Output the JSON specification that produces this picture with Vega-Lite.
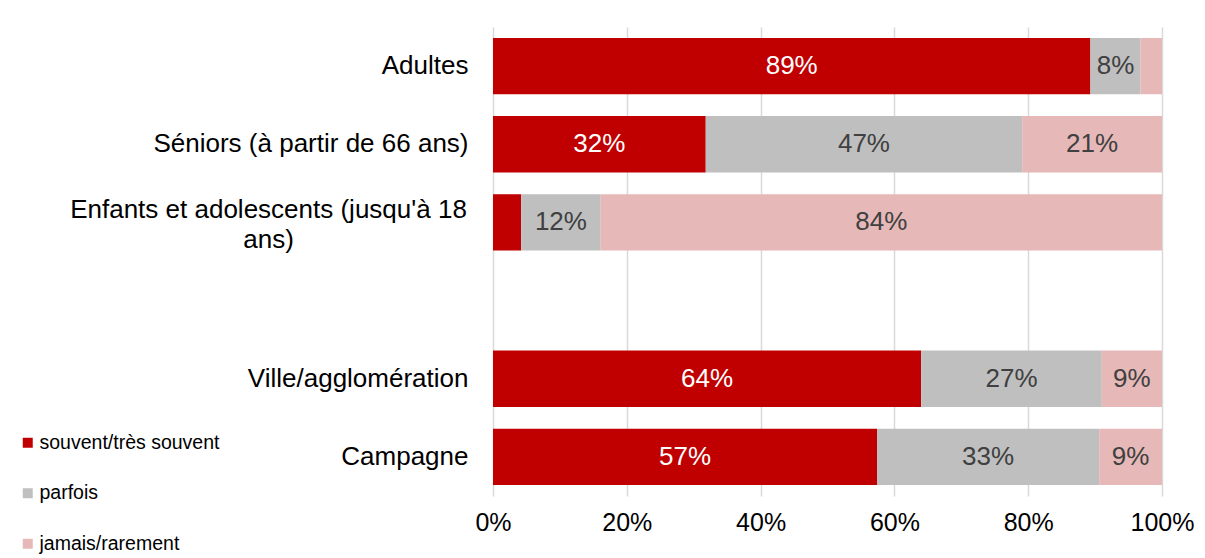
{
  "$schema": "https://vega.github.io/schema/vega-lite/v6.json",
  "autosize": "none",
  "width": 669,
  "height": 469,
  "padding": {"left": 493, "top": 27, "right": 43, "bottom": 62},
  "background": "white",
  "config": {
    "font": "Liberation Sans",
    "view": {"stroke": null}
  },
  "data": {
    "values": [
      {"group": "Adultes", "cat": "souvent/très souvent", "value": 89.3},
      {"group": "Adultes", "cat": "parfois", "value": 7.5},
      {"group": "Adultes", "cat": "jamais/rarement", "value": 3.2},
      {"group": "Séniors (à partir de 66 ans)", "cat": "souvent/très souvent", "value": 31.8},
      {"group": "Séniors (à partir de 66 ans)", "cat": "parfois", "value": 47.3},
      {"group": "Séniors (à partir de 66 ans)", "cat": "jamais/rarement", "value": 20.9},
      {"group": "Enfants et adolescents (jusqu'à 18 ans)", "cat": "souvent/très souvent", "value": 4.2},
      {"group": "Enfants et adolescents (jusqu'à 18 ans)", "cat": "parfois", "value": 11.9},
      {"group": "Enfants et adolescents (jusqu'à 18 ans)", "cat": "jamais/rarement", "value": 83.9},
      {"group": "Ville/agglomération", "cat": "souvent/très souvent", "value": 64.0},
      {"group": "Ville/agglomération", "cat": "parfois", "value": 27.0},
      {"group": "Ville/agglomération", "cat": "jamais/rarement", "value": 9.0},
      {"group": "Campagne", "cat": "souvent/très souvent", "value": 57.4},
      {"group": "Campagne", "cat": "parfois", "value": 33.2},
      {"group": "Campagne", "cat": "jamais/rarement", "value": 9.4}
    ]
  },
  "transform": [
    {"stack": "value", "groupby": ["group"], "sort": [{"field": "cat", "order": "descending"}], "as": ["x0", "x1"]},
    {"calculate": "(datum.x0 + datum.x1) / 2", "as": "mid"},
    {"calculate": "format(datum.value, '.0f') + '%'", "as": "label"}
  ],
  "encoding": {
    "y": {
      "field": "group",
      "type": "nominal",
      "title": null,
      "scale": {
        "domain": ["Adultes", "Séniors (à partir de 66 ans)", "Enfants et adolescents (jusqu'à 18 ans)", "gap", "Ville/agglomération", "Campagne"],
        "paddingInner": 0.28,
        "paddingOuter": 0.14
      },
      "axis": {
        "ticks": false,
        "domain": false,
        "grid": false,
        "labelPadding": {"condition": {"test": "datum.value === \"Enfants et adolescents (jusqu'à 18 ans)\"", "value": 225}, "value": 25},
        "labelAlign": {"condition": {"test": "datum.value === \"Enfants et adolescents (jusqu'à 18 ans)\"", "value": "center"}, "value": "right"},
        "labelOffset": {"condition": {"test": "datum.value === \"Enfants et adolescents (jusqu'à 18 ans)\"", "value": -12}, "value": 0},
        "labelFontSize": 26,
        "labelColor": "#000000",
        "labelLimit": 0,
        "labelLineHeight": 30,
        "labelExpr": "datum.value === 'gap' ? '' : (datum.value === \"Enfants et adolescents (jusqu'à 18 ans)\" ? [\"Enfants et adolescents (jusqu'à 18\", 'ans)'] : datum.value)"
      }
    }
  },
  "layer": [
    {
      "mark": {"type": "bar"},
      "encoding": {
        "x": {
          "field": "x0",
          "type": "quantitative",
          "title": null,
          "scale": {"domain": [0, 100], "nice": false},
          "axis": {
            "values": [0, 20, 40, 60, 80, 100],
            "labelExpr": "datum.value + '%'",
            "grid": true,
            "gridColor": "#d9d9d9",
            "gridWidth": 1.5,
            "domain": false,
            "ticks": false,
            "labelPadding": 14,
            "labelFontSize": 25,
            "labelColor": "#000000",
            "labelFlush": false
          }
        },
        "x2": {"field": "x1"},
        "color": {
          "field": "cat",
          "type": "nominal",
          "scale": {
            "domain": ["souvent/très souvent", "parfois", "jamais/rarement"],
            "range": ["#c00000", "#bfbfbf", "#e6b9b8"]
          },
          "legend": {
            "title": null,
            "orient": "none",
            "direction": "vertical",
            "legendX": -475,
            "legendY": 406,
            "padding": 0,
            "symbolType": "square",
            "symbolSize": 100,
            "symbolStrokeWidth": 0,
            "labelFontSize": 19.5,
            "labelColor": "#000000",
            "labelOffset": 2,
            "rowPadding": 29.5,
            "labelLimit": 0
          }
        }
      }
    },
    {
      "transform": [{"filter": "datum.value >= 5"}],
      "mark": {"type": "text", "fontSize": 26, "align": "center", "baseline": "middle"},
      "encoding": {
        "x": {"field": "mid", "type": "quantitative"},
        "text": {"field": "label"},
        "color": {
          "condition": {"test": "datum.cat === 'souvent/très souvent'", "value": "#ffffff"},
          "value": "#404040"
        }
      }
    }
  ]
}
